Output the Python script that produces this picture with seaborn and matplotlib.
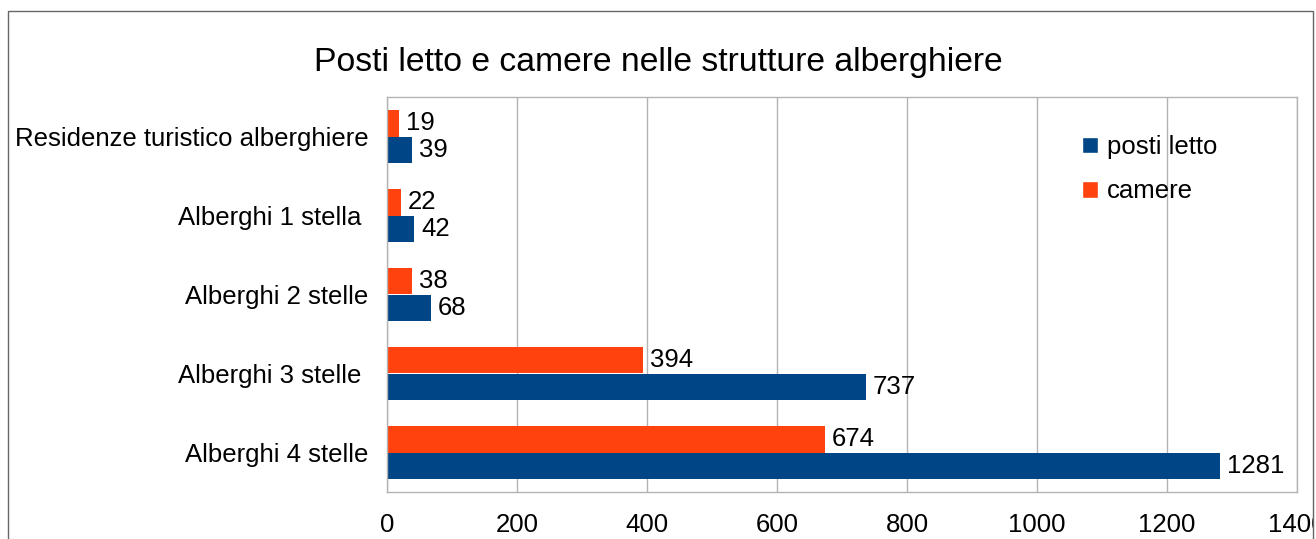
import numpy as np
import pandas as pd
import seaborn as sns
import matplotlib.pyplot as plt
from matplotlib.patches import Rectangle
from matplotlib.patches import Patch
from matplotlib.transforms import Bbox, TransformedBbox

# ----- data -----
categories = ["Residenze turistico alberghiere", "Alberghi 1 stella ", "Alberghi 2 stelle",
              "Alberghi 3 stelle ", "Alberghi 4 stelle"]
posti_letto = [39, 42, 68, 737, 1281]
camere = [19, 22, 38, 394, 674]
x_ticks = [0, 200, 400, 600, 800, 1000, 1200, 1400]

df = pd.DataFrame({
    "categoria": categories * 2,
    "valore": camere + posti_letto,
    "serie": ["camere"] * len(categories) + ["posti letto"] * len(categories),
})

BLUE = "#004586"
ORANGE = "#ff420e"
GRID = "#b3b3b3"
FS = 18.5

sns.set_style("white")
plt.rcParams["font.family"] = ["Liberation Sans", "DejaVu Sans"]
plt.rcParams["text.color"] = "black"
plt.rcParams["xtick.labelcolor"] = "black"
plt.rcParams["ytick.labelcolor"] = "black"

W, H = 1316, 539
fig = plt.figure(figsize=(W / 100, H / 100), dpi=100)
ax = fig.add_axes([387 / W, 1 - 492 / H, (1297 - 387) / W, (492 - 97) / H])

sns.barplot(data=df, y="categoria", x="valore", hue="serie", orient="h",
            hue_order=["camere", "posti letto"], order=categories,
            palette={"camere": ORANGE, "posti letto": BLUE},
            width=0.67, saturation=1, ax=ax, legend=False, edgecolor="none")

ax.set_xlim(0, 1400)
ax.set_ylim(len(categories) - 0.5, -0.5)
ax.set_xticks(x_ticks)
ax.set_xticklabels([str(t) for t in x_ticks], fontsize=FS)
ax.tick_params(axis="x", length=8, color=GRID, width=1, pad=7)
ax.tick_params(axis="y", which="major", length=0, pad=13.5, labelsize=FS)
ax.set_yticks(np.arange(len(categories) + 1) - 0.5, minor=True)
ax.tick_params(axis="y", which="minor", length=9, color=GRID, width=1)
ax.xaxis.grid(True, color=GRID, linewidth=1)
ax.set_axisbelow(True)
ax.set_xlabel("")
ax.set_ylabel("")
for side in ["top", "bottom", "left", "right"]:
    ax.spines[side].set_color(GRID)
    ax.spines[side].set_linewidth(1)

# value labels
for cont in ax.containers:
    ax.bar_label(cont, padding=5, fontsize=FS)

# legend (posti letto first)
handles = [Patch(facecolor=BLUE), Patch(facecolor=ORANGE)]
ax.legend(handles, ["posti letto", "camere"], frameon=False, fontsize=FS,
          loc="upper left", bbox_to_anchor=((1072 - 387) / (1297 - 387), 0.93),
          handlelength=0.6, handleheight=0.6, handletextpad=0.35, labelspacing=0.8,
          borderaxespad=0)

fig.text(0.5, 1 - 63 / H, "Posti letto e camere nelle strutture alberghiere",
         ha="center", va="center", fontsize=24.3)

# outer chart frame
fig.add_artist(Rectangle((8 / W, -0.1), (1313 - 8) / W, 1.1 - 11 / H,
                         transform=fig.transFigure, fill=False,
                         edgecolor="#666666", linewidth=1))

clip = TransformedBbox(Bbox([[0, 0], [1313 / W, 1]]), fig.transFigure)
for lab in ax.get_xticklabels():
    lab.set_clip_box(clip)
    lab.set_clip_on(True)

fig.savefig("out.png", dpi=100)
